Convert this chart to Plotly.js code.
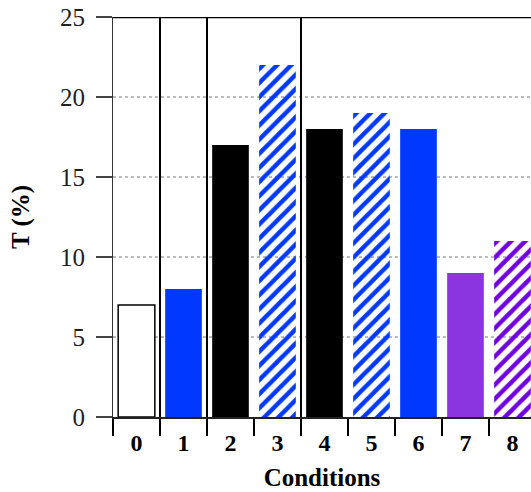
<!DOCTYPE html>
<html>
<head>
<meta charset="utf-8">
<script src="https://cdn.plot.ly/plotly-3.0.1.min.js"></script>
<style>html,body{margin:0;padding:0;overflow:hidden;background:#fff}</style>
</head>
<body>
<div id="chart" style="width:531px;height:492px"></div>
<script>
const categories = ["0", "1", "2", "3", "4", "5", "6", "7", "8"];
const values = [7, 8, 17, 22, 18, 19, 18, 9, 11];
const barColors = ["#ffffff", "#0038ff", "#000000", "#0038ff", "#000000", "#0038ff", "#0038ff", "#8a35df", "#7000e0"];
const hatch = ["", "", "", "/", "", "/", "", "", "/"];
const outlineWidths = [1.5, 0, 0, 0, 0, 0, 0, 0, 0];
const yTicks = [0, 5, 10, 15, 20, 25];
const dividers = [0.5, 1.5, 3.5];

const FONT = "'Liberation Serif', 'Times New Roman', 'DejaVu Serif', serif";

const trace = {
  type: "bar",
  x: categories,
  y: values,
  width: 0.78,
  marker: {
    color: barColors,
    line: { color: "#000000", width: outlineWidths },
    pattern: { shape: hatch, size: 10, solidity: 0.45, bgcolor: "#ffffff", fillmode: "replace" }
  },
  hoverinfo: "x+y"
};

const shapes = dividers.map(d => ({
  type: "line", xref: "x", yref: "y", x0: d, x1: d, y0: 0, y1: 25,
  line: { color: "#000000", width: 2 }
}));
shapes.push({
  type: "line", xref: "paper", yref: "y", x0: 0, x1: 1, y0: 25, y1: 25,
  line: { color: "#000000", width: 2.5 }
});

const layout = {
  width: 531, height: 492,
  margin: { l: 113, r: 0, t: 17, b: 75 },
  paper_bgcolor: "#ffffff", plot_bgcolor: "#ffffff",
  font: { family: FONT, color: "#000000" },
  showlegend: false,
  bargap: 0.2,
  xaxis: {
    type: "category",
    range: [-0.5, 8.394],
    tickson: "boundaries",
    ticks: "outside", ticklen: 17, tickwidth: 2, tickcolor: "#000000",
    ticklabelstandoff: 4,
    showgrid: false,
    showline: true, linecolor: "#222222", linewidth: 1.5,
    tickfont: { family: FONT, size: 24, weight: "bold", color: "#000000" },
    title: { text: "<b>Conditions</b>", font: { family: FONT, size: 25, color: "#000000" }, standoff: 13 },
    zeroline: false, fixedrange: true
  },
  yaxis: {
    range: [0, 25],
    tickmode: "array", tickvals: yTicks, ticktext: yTicks.map(String),
    ticks: "outside", ticklen: 16, tickwidth: 2, tickcolor: "#444444",
    ticklabelstandoff: 6,
    showgrid: true, gridcolor: "#bbbbbb", griddash: "dot", gridwidth: 1.5,
    showline: true, linecolor: "#333333", linewidth: 1,
    zeroline: false,
    tickfont: { family: FONT, size: 25, color: "#222222" },
    title: { text: "<b>T (%)</b>", font: { family: FONT, size: 25, color: "#000000" }, standoff: 23 },
    fixedrange: true
  },
  shapes: shapes
};

Plotly.newPlot("chart", [trace], layout, { displayModeBar: false, staticPlot: true });
</script>
</body>
</html>
